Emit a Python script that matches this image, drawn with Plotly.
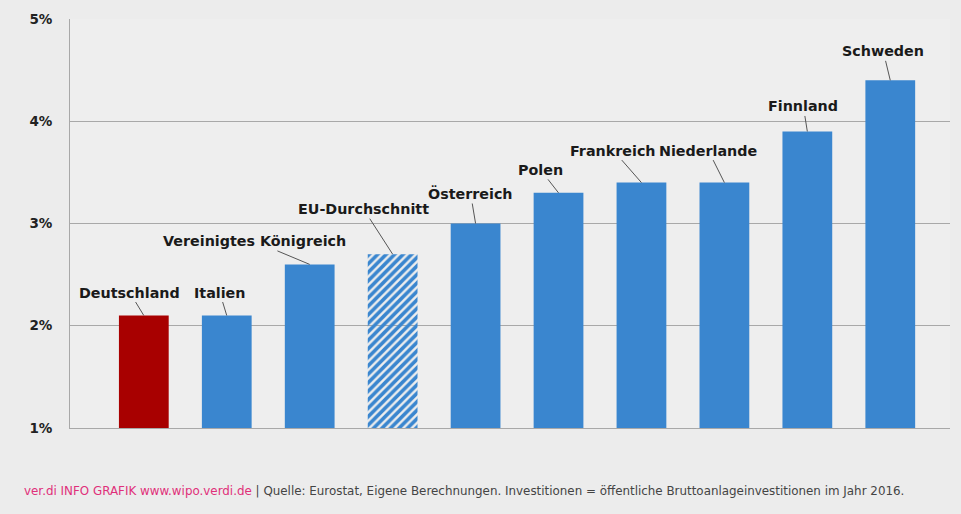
import plotly.graph_objects as go

countries = ["Deutschland", "Italien", "Vereinigtes Königreich", "EU-Durchschnitt",
             "Österreich", "Polen", "Frankreich", "Niederlande", "Finnland", "Schweden"]
values = [2.1, 2.1, 2.6, 2.7, 3.0, 3.3, 3.4, 3.4, 3.9, 4.4]
label_dx = [-14, -7, -55, -29, -5, -18, -28, -16, -4, -7]
label_dy = [-23, -23, -23, -45, -30, -23, -32, -32, -25, -29]
tick_vals = [1, 2, 3, 4, 5]
tick_text = ["1%", "2%", "3%", "4%", "5%"]

BLUE = "#3a86cf"
RED = "#a80000"

colors = [RED if c == "Deutschland" else BLUE for c in countries]
shapes_pat = ["/" if c == "EU-Durchschnitt" else "" for c in countries]

xs = list(range(len(countries)))
base = tick_vals[0]

fig = go.Figure()
fig.add_trace(go.Bar(
    x=xs, y=[v - base for v in values], base=base,
    width=0.6,
    marker=dict(
        color=colors,
        line=dict(width=0),
        pattern=dict(shape=shapes_pat, fgcolor=BLUE, bgcolor="#dcebf8",
                     size=6, solidity=0.6, fillmode="replace"),
    ),
    hoverinfo="skip",
))

annotations = []
for x, v, c, dx, dy in zip(xs, values, countries, label_dx, label_dy):
    annotations.append(dict(
        x=x, y=v, xref="x", yref="y", text="<b>%s</b>" % c,
        showarrow=True, arrowhead=0, arrowwidth=1, arrowcolor="#555555",
        ax=dx, ay=dy, standoff=0,
        font=dict(family="DejaVu Sans", size=14.3, color="#1a1a1a"),
    ))

W, H = 961, 514
ml, mr, mt, mb = 70, 11, 14, 86
pw, ph = W - ml - mr, H - mt - mb

annotations.append(dict(
    x=(22 - ml) / pw, y=(H - 492 - mb) / ph, xref="paper", yref="paper",
    xanchor="left", yanchor="middle", showarrow=False,
    text=("<span style='color:#e0307a'>ver.di INFO GRAFIK www.wipo.verdi.de</span>"
          " | Quelle: Eurostat, Eigene Berechnungen. Investitionen = öffentliche "
          "Bruttoanlageinvestitionen im Jahr 2016."),
    font=dict(family="DejaVu Sans", size=11.9, color="#444444"),
))

fig.update_layout(
    width=W, height=H,
    margin=dict(l=ml, r=mr, t=mt, b=mb),
    paper_bgcolor="#ececec", plot_bgcolor="#eeeeee",
    showlegend=False, bargap=0.4,
    annotations=annotations,
    xaxis=dict(range=[-0.89, 9.72], showticklabels=False, showgrid=False,
               zeroline=False, showline=True, linecolor="#a8a8a8", linewidth=1,
               ticks=""),
    yaxis=dict(range=[1, 5], tickvals=tick_vals, ticktext=tick_text,
               showgrid=True, gridcolor="#a8a8a8", gridwidth=1,
               showline=True, linecolor="#a8a8a8", linewidth=1,
               zeroline=False, ticks="", ticklabelstandoff=14,
               tickfont=dict(family="DejaVu Sans", size=13.5, color="#222222",
                             weight="bold")),
)

fig.write_html("out.html")
